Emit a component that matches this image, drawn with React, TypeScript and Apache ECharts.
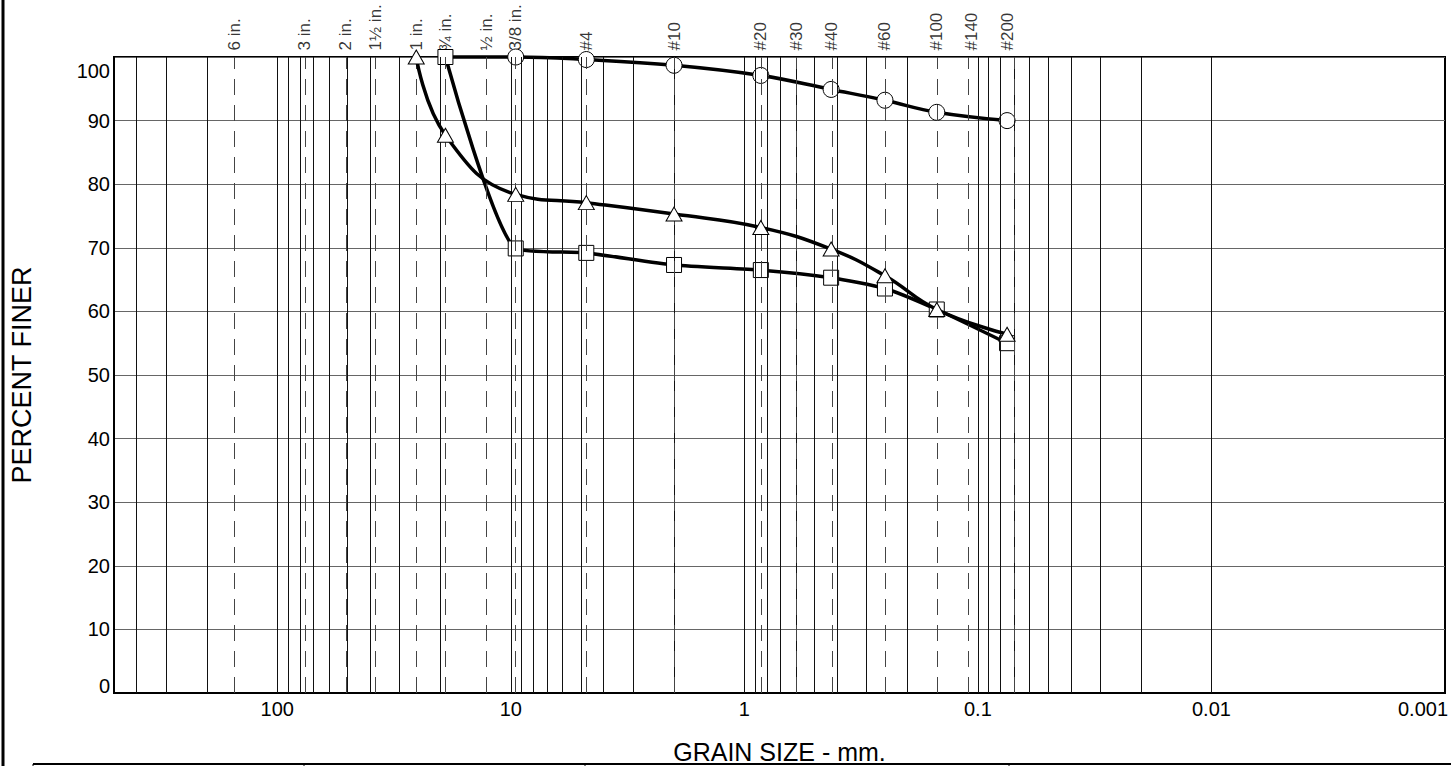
import React, { useEffect, useRef } from "react";
import * as echarts from "echarts";

const FONT = "'Liberation Sans', Arial, Helvetica, sans-serif";

// Sieve openings (mm) and their labels
const sieveSizes = [152.4, 76.2, 50.8, 38.1, 25.4, 19.05, 12.7, 9.525, 4.75, 2.0, 0.85, 0.6, 0.425, 0.25, 0.15, 0.106, 0.075];
const sieveLabels = ["6 in.", "3 in.", "2 in.", "1½ in.", "1 in.", "¾ in.", "½ in.", "3/8 in.", "#4", "#10", "#20", "#30", "#40", "#60", "#100", "#140", "#200"];

// Logarithmic grid lines (mm)
const gridValues = [
  400, 300, 200, 100,
  90, 80, 70, 60, 50, 40, 30, 20, 10,
  9, 8, 7, 6, 5, 4, 3, 2, 1,
  0.9, 0.8, 0.7, 0.6, 0.5, 0.4, 0.3, 0.2, 0.1,
  0.09, 0.08, 0.07, 0.06, 0.05, 0.04, 0.03, 0.02, 0.01,
  0.009, 0.008, 0.007, 0.006, 0.005, 0.004, 0.003, 0.002,
];

// x tick labels
const xTickExponents = [2, 1, 0, -1, -2, -3];
const xTickLabels = ["100", "10", "1", "0.1", "0.01", "0.001"];

// Series: circles
const circleSizes = [19.05, 9.525, 4.75, 2.0, 0.85, 0.425, 0.25, 0.15, 0.075];
const circleFiner = [100, 100, 99.6, 98.7, 97.1, 94.9, 93.2, 91.3, 90.0];
// Series: triangles
const triangleSizes = [25.4, 19.05, 9.525, 4.75, 2.0, 0.85, 0.425, 0.25, 0.15, 0.075];
const triangleFiner = [100, 87.7, 78.4, 77.1, 75.3, 73.2, 69.8, 65.6, 60.3, 56.4];
// Series: squares
const squareSizes = [19.05, 9.525, 4.75, 2.0, 0.85, 0.425, 0.25, 0.15, 0.075];
const squareFiner = [100, 69.9, 69.2, 67.3, 66.5, 65.3, 63.6, 60.3, 55.0];

export default function App() {
  const ref = useRef<HTMLDivElement>(null);

  useEffect(() => {
    if (!ref.current) return;
    const chart = echarts.init(ref.current, undefined, { renderer: "svg" });

    const markerStyle = { color: "#fff", borderColor: "#000", borderWidth: 1 };
    const lineStyle = { color: "#000", width: 3.5 };

    const option: any = {
      animation: false,
      textStyle: { fontFamily: FONT },
      grid: {
        left: 114,
        right: 6,
        top: 57,
        bottom: 73,
        containLabel: false,
        outerBoundsMode: "none",
        show: true,
        borderColor: "#000",
        borderWidth: 2,
        backgroundColor: "transparent",
      },
      xAxis: {
        type: "log",
        logBase: 10,
        min: 0.001,
        max: 500,
        inverse: true,
        name: "GRAIN SIZE - mm.",
        nameLocation: "middle",
        nameGap: 46,
        nameTextStyle: { fontSize: 25, color: "#000", fontFamily: FONT },
        axisLine: { show: true, lineStyle: { color: "#000", width: 2 } },
        axisTick: { show: false },
        splitLine: { show: false },
        minorTick: { show: false },
        axisLabel: {
          fontSize: 20,
          color: "#000",
          margin: 6,
          fontFamily: FONT,
          showMaxLabel: false,
          formatter: (v: number) => {
            const e = Math.log10(v);
            const r = Math.round(e);
            if (Math.abs(e - r) > 1e-6) return "";
            const idx = xTickExponents.indexOf(r);
            if (idx < 0) return "";
            if (r === -3) return "{r|" + xTickLabels[idx] + "}";
            return xTickLabels[idx];
          },
          rich: {
            r: { fontSize: 20, color: "#000", fontFamily: FONT, padding: [0, 44, 0, 0] },
          },
        },
      },
      yAxis: {
        type: "value",
        min: 0,
        max: 100,
        interval: 10,
        name: "PERCENT FINER",
        nameLocation: "middle",
        nameGap: 79,
        nameTextStyle: { fontSize: 27, color: "#000", fontFamily: FONT },
        axisLine: { show: true, onZero: false, lineStyle: { color: "#000", width: 2 } },
        axisTick: { show: false },
        splitLine: { show: true, lineStyle: { color: "#666", width: 1 } },
        axisLabel: {
          fontSize: 20,
          color: "#000",
          margin: 4,
          fontFamily: FONT,
          formatter: (v: number) => {
            if (v === 100) return "{t|100}";
            if (v === 0) return "{b|0}";
            return String(v);
          },
          rich: {
            t: { fontSize: 20, color: "#000", fontFamily: FONT, padding: [28, 0, 0, 0] },
            b: { fontSize: 20, color: "#000", fontFamily: FONT, padding: [0, 0, 14, 0] },
          },
        },
      },
      graphic: [
        { type: "line", shape: { x1: 3, y1: 0, x2: 3, y2: 766 }, style: { stroke: "#000", lineWidth: 3 }, silent: true },
        { type: "line", shape: { x1: 33, y1: 764, x2: 1451, y2: 764 }, style: { stroke: "#000", lineWidth: 2 }, silent: true },
        { type: "line", shape: { x1: 33, y1: 764, x2: 33, y2: 766 }, style: { stroke: "#000", lineWidth: 1 }, silent: true },
        { type: "line", shape: { x1: 304, y1: 764, x2: 304, y2: 766 }, style: { stroke: "#000", lineWidth: 1 }, silent: true },
        { type: "line", shape: { x1: 585, y1: 764, x2: 585, y2: 766 }, style: { stroke: "#000", lineWidth: 1 }, silent: true },
        { type: "line", shape: { x1: 1009, y1: 764, x2: 1009, y2: 766 }, style: { stroke: "#000", lineWidth: 1 }, silent: true },
      ],
      series: [
        {
          type: "line",
          name: "grid",
          data: [],
          silent: true,
          z: 1,
          markLine: {
            silent: true,
            symbol: ["none", "none"],
            label: { show: false },
            emphasis: { disabled: true },
            lineStyle: { color: "#111", type: "solid", width: 1 },
            data: gridValues.map((v) => ({ xAxis: v })),
          },
        },
        {
          type: "scatter",
          name: "sieves",
          silent: true,
          z: 2,
          symbolSize: 1,
          itemStyle: { color: "rgba(0,0,0,0)" },
          data: sieveSizes.map((s, i) => ({ value: [s, 100], name: sieveLabels[i] })),
          label: {
            show: true,
            formatter: "{b}",
            position: "top",
            distance: 6,
            rotate: 90,
            align: "left",
            verticalAlign: "middle",
            fontSize: 17,
            color: "#000",
            fontFamily: FONT,
          },
          markLine: {
            silent: true,
            symbol: ["none", "none"],
            label: { show: false },
            emphasis: { disabled: true },
            lineStyle: { color: "#444", type: [16, 10], width: 1 },
            data: sieveSizes.map((v) => ({ xAxis: v })),
          },
        },
        {
          type: "line",
          name: "circles",
          z: 3,
          clip: false,
          smooth: 0.4,
          symbol: "circle",
          symbolSize: 16,
          showAllSymbol: true,
          lineStyle,
          itemStyle: markerStyle,
          data: circleSizes.map((s, i) =>
            i === 0 ? { value: [s, circleFiner[i]], symbol: "none" } : { value: [s, circleFiner[i]] }
          ),
        },
        {
          type: "line",
          name: "squares",
          z: 4,
          clip: false,
          smooth: 0.2,
          symbol: "rect",
          symbolSize: 15,
          showAllSymbol: true,
          lineStyle,
          itemStyle: markerStyle,
          data: squareSizes.map((s, i) => [s, squareFiner[i]]),
        },
        {
          type: "line",
          name: "triangles",
          z: 5,
          clip: false,
          smooth: 0.45,
          symbol: "triangle",
          symbolSize: [16, 14],
          showAllSymbol: true,
          lineStyle,
          itemStyle: markerStyle,
          data: triangleSizes.map((s, i) => [s, triangleFiner[i]]),
        },
      ],
    };

    chart.setOption(option);
    return () => chart.dispose();
  }, []);

  return (
    <div
      ref={ref}
      style={{ position: "fixed", left: 0, top: 0, width: 1451, height: 766, background: "#fff" }}
    />
  );
}
